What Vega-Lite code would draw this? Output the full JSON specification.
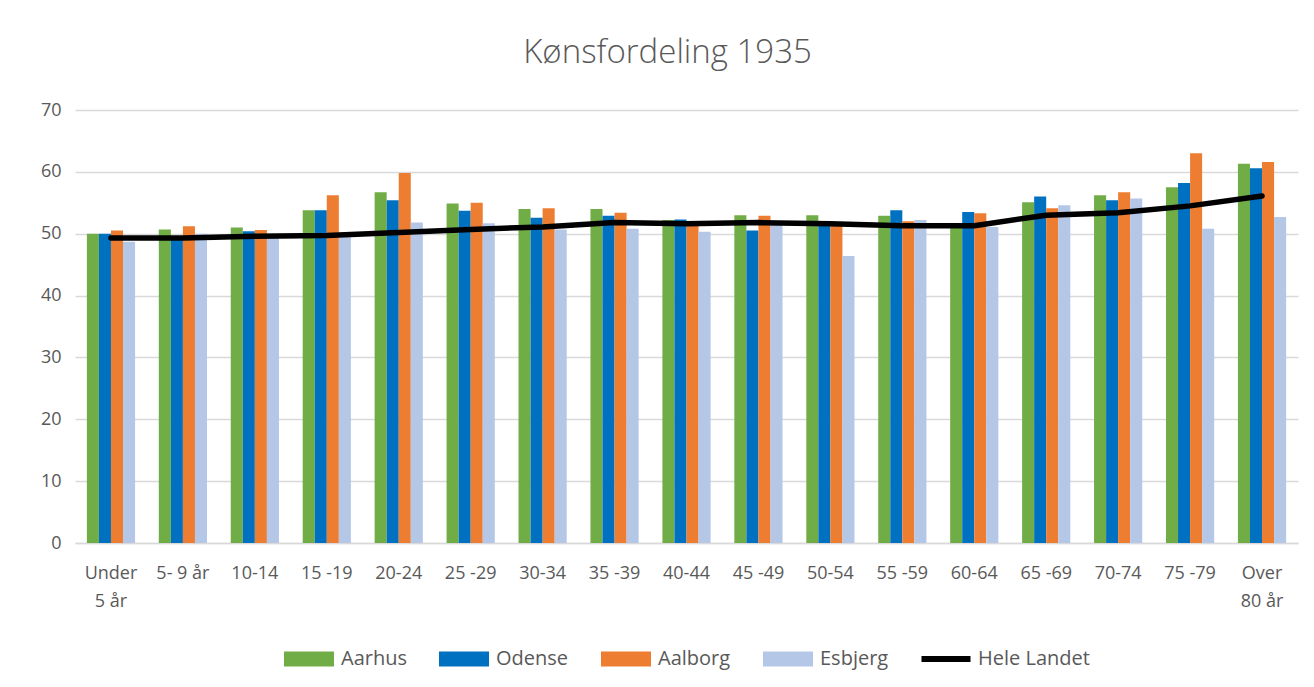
{
  "$schema": "https://vega.github.io/schema/vega-lite/v6.json",
  "width": 1223,
  "height": 433,
  "autosize": "none",
  "padding": {"left": 75, "top": 110, "right": 16, "bottom": 144},
  "background": "white",
  "title": {"text": "Kønsfordeling 1935", "fontSize": 33, "font": "Open Sans", "fontWeight": 300, "color": "#595959", "offset": 31, "dx": -19},
  "config": {
    "view": {"stroke": null},
    "font": "Open Sans",
    "legend": {"layout": {"bottom": {"anchor": "middle"}}}
  },
  "datasets": {
    "rows": [
      {"age": "Under|5 år", "series": "Aarhus", "value": 50.0}, {"age": "Under|5 år", "series": "Odense", "value": 50.0}, {"age": "Under|5 år", "series": "Aalborg", "value": 50.5}, {"age": "Under|5 år", "series": "Esbjerg", "value": 48.7}, {"age": "Under|5 år", "series": "Hele Landet", "value": 49.3},
      {"age": "5- 9 år", "series": "Aarhus", "value": 50.7}, {"age": "5- 9 år", "series": "Odense", "value": 49.6}, {"age": "5- 9 år", "series": "Aalborg", "value": 51.2}, {"age": "5- 9 år", "series": "Esbjerg", "value": 50.0}, {"age": "5- 9 år", "series": "Hele Landet", "value": 49.3},
      {"age": "10-14", "series": "Aarhus", "value": 51.0}, {"age": "10-14", "series": "Odense", "value": 50.4}, {"age": "10-14", "series": "Aalborg", "value": 50.6}, {"age": "10-14", "series": "Esbjerg", "value": 49.6}, {"age": "10-14", "series": "Hele Landet", "value": 49.6},
      {"age": "15 -19", "series": "Aarhus", "value": 53.8}, {"age": "15 -19", "series": "Odense", "value": 53.8}, {"age": "15 -19", "series": "Aalborg", "value": 56.2}, {"age": "15 -19", "series": "Esbjerg", "value": 49.5}, {"age": "15 -19", "series": "Hele Landet", "value": 49.7},
      {"age": "20-24", "series": "Aarhus", "value": 56.7}, {"age": "20-24", "series": "Odense", "value": 55.4}, {"age": "20-24", "series": "Aalborg", "value": 59.8}, {"age": "20-24", "series": "Esbjerg", "value": 51.8}, {"age": "20-24", "series": "Hele Landet", "value": 50.2},
      {"age": "25 -29", "series": "Aarhus", "value": 54.9}, {"age": "25 -29", "series": "Odense", "value": 53.7}, {"age": "25 -29", "series": "Aalborg", "value": 55.0}, {"age": "25 -29", "series": "Esbjerg", "value": 51.7}, {"age": "25 -29", "series": "Hele Landet", "value": 50.7},
      {"age": "30-34", "series": "Aarhus", "value": 54.0}, {"age": "30-34", "series": "Odense", "value": 52.6}, {"age": "30-34", "series": "Aalborg", "value": 54.1}, {"age": "30-34", "series": "Esbjerg", "value": 50.7}, {"age": "30-34", "series": "Hele Landet", "value": 51.1},
      {"age": "35 -39", "series": "Aarhus", "value": 54.0}, {"age": "35 -39", "series": "Odense", "value": 52.9}, {"age": "35 -39", "series": "Aalborg", "value": 53.4}, {"age": "35 -39", "series": "Esbjerg", "value": 50.8}, {"age": "35 -39", "series": "Hele Landet", "value": 51.8},
      {"age": "40-44", "series": "Aarhus", "value": 52.2}, {"age": "40-44", "series": "Odense", "value": 52.3}, {"age": "40-44", "series": "Aalborg", "value": 51.5}, {"age": "40-44", "series": "Esbjerg", "value": 50.3}, {"age": "40-44", "series": "Hele Landet", "value": 51.6},
      {"age": "45 -49", "series": "Aarhus", "value": 53.0}, {"age": "45 -49", "series": "Odense", "value": 50.5}, {"age": "45 -49", "series": "Aalborg", "value": 52.9}, {"age": "45 -49", "series": "Esbjerg", "value": 51.6}, {"age": "45 -49", "series": "Hele Landet", "value": 51.8},
      {"age": "50-54", "series": "Aarhus", "value": 53.0}, {"age": "50-54", "series": "Odense", "value": 51.5}, {"age": "50-54", "series": "Aalborg", "value": 51.3}, {"age": "50-54", "series": "Esbjerg", "value": 46.4}, {"age": "50-54", "series": "Hele Landet", "value": 51.6},
      {"age": "55 -59", "series": "Aarhus", "value": 52.9}, {"age": "55 -59", "series": "Odense", "value": 53.8}, {"age": "55 -59", "series": "Aalborg", "value": 52.0}, {"age": "55 -59", "series": "Esbjerg", "value": 52.2}, {"age": "55 -59", "series": "Hele Landet", "value": 51.3},
      {"age": "60-64", "series": "Aarhus", "value": 51.2}, {"age": "60-64", "series": "Odense", "value": 53.5}, {"age": "60-64", "series": "Aalborg", "value": 53.3}, {"age": "60-64", "series": "Esbjerg", "value": 51.1}, {"age": "60-64", "series": "Hele Landet", "value": 51.3},
      {"age": "65 -69", "series": "Aarhus", "value": 55.1}, {"age": "65 -69", "series": "Odense", "value": 56.0}, {"age": "65 -69", "series": "Aalborg", "value": 54.1}, {"age": "65 -69", "series": "Esbjerg", "value": 54.6}, {"age": "65 -69", "series": "Hele Landet", "value": 53.0},
      {"age": "70-74", "series": "Aarhus", "value": 56.2}, {"age": "70-74", "series": "Odense", "value": 55.4}, {"age": "70-74", "series": "Aalborg", "value": 56.7}, {"age": "70-74", "series": "Esbjerg", "value": 55.7}, {"age": "70-74", "series": "Hele Landet", "value": 53.4},
      {"age": "75 -79", "series": "Aarhus", "value": 57.5}, {"age": "75 -79", "series": "Odense", "value": 58.2}, {"age": "75 -79", "series": "Aalborg", "value": 63.0}, {"age": "75 -79", "series": "Esbjerg", "value": 50.8}, {"age": "75 -79", "series": "Hele Landet", "value": 54.5},
      {"age": "Over|80 år", "series": "Aarhus", "value": 61.3}, {"age": "Over|80 år", "series": "Odense", "value": 60.6}, {"age": "Over|80 år", "series": "Aalborg", "value": 61.6}, {"age": "Over|80 år", "series": "Esbjerg", "value": 52.7}, {"age": "Over|80 år", "series": "Hele Landet", "value": 56.1}
    ]
  },
  "data": {"name": "rows"},
  "encoding": {
    "x": {
      "field": "age", "type": "nominal", "sort": null, "title": null,
      "scale": {"paddingInner": 0.33, "paddingOuter": 0.165},
      "axis": {"labelAngle": 0, "labelExpr": "split(datum.label, '|')", "labelFontSize": 18, "labelColor": "#595959", "labelPadding": 21, "labelLineHeight": 28, "ticks": false, "domainColor": "#d9d9d9", "domainWidth": 1.5, "labelBaseline": "top"}
    },
    "y": {
      "field": "value", "type": "quantitative", "title": null,
      "scale": {"domain": [0, 70], "nice": false},
      "axis": {"values": [0, 10, 20, 30, 40, 50, 60, 70], "domain": false, "ticks": false, "labelFontSize": 18, "labelColor": "#595959", "labelPadding": 14, "gridColor": "#d9d9d9", "gridWidth": 1.5}
    },
    "color": {
      "field": "series", "type": "nominal", "title": null,
      "scale": {"domain": ["Aarhus", "Odense", "Aalborg", "Esbjerg", "Hele Landet"], "range": ["#70AD47", "#0070C0", "#ED7D31", "#B4C7E7", "#000000"]},
      "legend": {
        "orient": "bottom", "direction": "horizontal", "offset": 24,
        "labelFontSize": 20, "labelColor": "#595959", "labelOffset": 7, "columnPadding": 32,
        "symbolSize": 2500,
        "encode": {"symbols": {"update": {
          "shape": {"signal": "datum.value === 'Hele Landet' ? 'M-1,-0.3M1,0.3M-0.98,-0.12H0.98V0.12H-0.98Z' : 'M-1,-0.3H1V0.3H-1Z'"},
          "fill": {"signal": "scale('color', datum.value)"},
          "stroke": {"value": "transparent"},
          "strokeWidth": {"value": 0},
          "opacity": {"value": 1}
        }}}
      }
    }
  },
  "layer": [
    {
      "transform": [{"filter": "datum.series !== 'Hele Landet'"}],
      "mark": {"type": "bar"},
      "encoding": {
        "xOffset": {"field": "series", "type": "nominal", "scale": {"domain": ["Aarhus", "Odense", "Aalborg", "Esbjerg"]}}
      }
    },
    {
      "transform": [{"filter": "datum.series === 'Hele Landet'"}],
      "mark": {"type": "line", "strokeWidth": 5.5, "strokeCap": "round", "strokeJoin": "round"},
      "encoding": {}
    }
  ]
}
